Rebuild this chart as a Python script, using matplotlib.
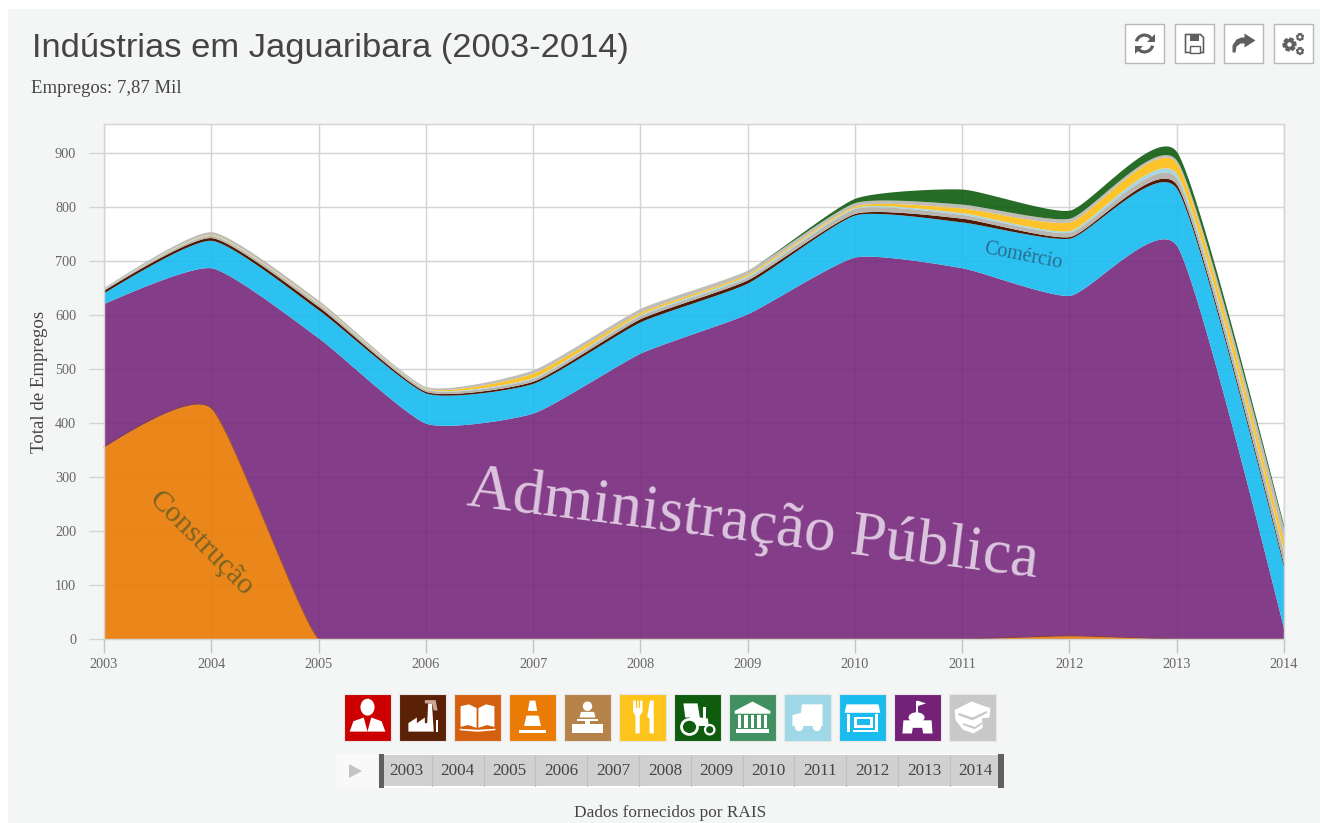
import numpy as np
import matplotlib
matplotlib.use("Agg")
import matplotlib.pyplot as plt
from matplotlib.patches import Rectangle, Polygon, Circle, Wedge, Ellipse
from matplotlib.ticker import FixedLocator

years = [2003, 2004, 2005, 2006, 2007, 2008, 2009, 2010, 2011, 2012, 2013, 2014]
construcao = [356, 428, 0, 0, 0, 0, 0, 0, 0, 6, 0, 0]
administracao = [266, 260, 558, 400, 419, 530, 603, 708, 688, 631, 729, 17]
comercio = [20, 51, 52, 56, 55, 58, 57, 78, 85, 106, 106, 114]
industria = [5, 5, 6, 3, 4, 6, 6, 3, 7, 3, 7, 6]
educacao = [2, 4, 5, 4, 5, 6, 5, 9, 7, 8, 12, 20]
transporte = [1, 1, 1, 1, 2, 2, 3, 2, 3, 3, 8, 3]
alimentacao = [0, 1, 1, 1, 8, 4, 3, 3, 9, 16, 20, 18]
outros = [2, 5, 5, 3, 6, 7, 7, 6, 7, 7, 5, 25]
agricultura = [0, 0, 0, 0, 0, 0, 0, 8, 28, 15, 16, 5]

series = [construcao, administracao, comercio, industria, educacao,
          transporte, alimentacao, outros, agricultura]
series_colors = ["#ea7c06", "#732278", "#1abcf0", "#4e1a04", "#b8b6ae",
                 "#a5d6e2", "#fcc42a", "#bfbdb6", "#0f5c0f"]
series_alpha = [0.92, 0.88, 0.92, 1, 1, 1, 1, 1, 0.9]
series_labels = ["Construção", "Administração Pública", "Comércio"]
y_ticks = [0, 100, 200, 300, 400, 500, 600, 700, 800, 900]
icon_colors = ["#cc0000", "#5a2106", "#d4600f", "#ea7c06", "#b5834a", "#ffc41c",
               "#0f5c0f", "#41905f", "#9fd9e8", "#1abcf0", "#732278", "#c8c8c8"]
title_text = "Indústrias em Jaguaribara (2003-2014)"
subtitle_text = "Empregos: 7,87 Mil"
source_text = "Dados fornecidos por RAIS"
ylabel_text = "Total de Empregos"

W, H = 1320, 823
SERIF = "Liberation Serif"
SANS = "Liberation Sans"
BG = "#f4f6f5"
TENSION = 0.73


def cardinal(x, y, grid, n=60):
    """Cardinal spline through the data points, the curve the chart's area edges use."""
    x = np.asarray(x, float)
    y = np.asarray(y, float)
    k = (1 - TENSION) / 2
    tx = k * (x[2:] - x[:-2])
    ty = k * (y[2:] - y[:-2])
    t = np.linspace(0, 1, n)[:, None]
    out_x, out_y = [], []
    for i in range(len(x) - 1):
        p0 = np.array([x[i], y[i]])
        p3 = np.array([x[i + 1], y[i + 1]])
        if i == 0:
            c = p3 - np.array([tx[0], ty[0]]) * 2 / 3
            pts = (1 - t)**2 * p0 + 2 * (1 - t) * t * c + t**2 * p3
        elif i == len(x) - 2:
            c = p0 + np.array([tx[-1], ty[-1]]) * 2 / 3
            pts = (1 - t)**2 * p0 + 2 * (1 - t) * t * c + t**2 * p3
        else:
            c1 = p0 + np.array([tx[i - 1], ty[i - 1]]) * 2 / 3
            c2 = p3 - np.array([tx[i], ty[i]]) * 2 / 3
            pts = (1 - t)**3 * p0 + 3 * (1 - t)**2 * t * c1 + 3 * (1 - t) * t**2 * c2 + t**3 * p3
        out_x.append(pts[:, 0])
        out_y.append(pts[:, 1])
    return np.interp(grid, np.concatenate(out_x), np.concatenate(out_y))


fig = plt.figure(figsize=(W / 100, H / 100), dpi=100, facecolor="white")

bg = fig.add_axes([0, 0, 1, 1], zorder=0)
bg.set_xlim(0, W)
bg.set_ylim(H, 0)
bg.axis("off")
bg.add_patch(Rectangle((8, 9), W - 8, H - 9, fc=BG, ec="none"))

L, R, T, B = 104, 1284, 124, 639
ax = fig.add_axes([L / W, 1 - B / H, (R - L) / W, (B - T) / H], zorder=1)
ax.set_xlim(years[0], years[-1])
ax.set_ylim(0, (B - T) / 0.5395)
ax.set_facecolor("white")
ax.set_axisbelow(True)
ax.grid(True, color="#d4d4d4", lw=1.05)
ax.xaxis.set_major_locator(FixedLocator(years))
ax.yaxis.set_major_locator(FixedLocator(y_ticks))
ax.tick_params(axis="x", length=10, width=1.0, color="#c4c4c4", pad=4, labelsize=10.3, labelcolor="#666666")
ax.tick_params(axis="y", length=11, width=1.0, color="#d4d4d4", pad=9, labelsize=10.3, labelcolor="#666666")
ax.set_xticklabels([str(y) for y in years])
for lab in ax.get_xticklabels() + ax.get_yticklabels():
    lab.set_fontfamily(SERIF)
for sp in ax.spines.values():
    sp.set_color("#d4d4d4")
    sp.set_linewidth(1.05)

grid_x = np.linspace(years[0], years[-1], 2400)
base = np.zeros(len(years))
prev = np.zeros_like(grid_x)
for i, (vals, col, al) in enumerate(zip(series, series_colors, series_alpha)):
    top = base + np.array(vals, float)
    cur = np.maximum(cardinal(years, top, grid_x), prev)
    ax.fill_between(grid_x, prev, cur, color=col, alpha=al, lw=0)
    if i == 0:
        first_top = cur.copy()
    prev, base = cur, top
ax.plot(grid_x, first_top, color="#8a3f30", lw=0.7, alpha=0.8, clip_on=False)

bg.text(32, 48, title_text, family=SANS, fontsize=24.8, color="#444444", va="center", ha="left")
bg.text(31, 88, subtitle_text, family=SERIF, fontsize=13.5, color="#444444", va="center", ha="left")
fig.text(40 / W, 1 - 382 / H, ylabel_text, family=SERIF, fontsize=13.6, color="#444444",
         rotation=90, ha="center", va="center", zorder=3)
fig.text(670 / W, 1 - 813 / H, source_text, family=SERIF, fontsize=12.4, color="#444444",
         ha="center", va="center", zorder=3)

fig.text(201 / W, 1 - 544 / H, series_labels[0], family=SERIF, fontsize=21.5, color="#7a6424",
         rotation=-45, ha="center", va="center", zorder=3, rotation_mode="anchor")
fig.text(753 / W, 1 - 526 / H, series_labels[1], family=SERIF, fontsize=45.3, color="#dcc6de",
         rotation=-7.2, ha="center", va="center", zorder=3, rotation_mode="anchor")
fig.text(1023 / W, 1 - 256 / H, series_labels[2], family=SERIF, fontsize=14.5, color="#2b6c90",
         rotation=-11, ha="center", va="center", zorder=3, rotation_mode="anchor")

ui = fig.add_axes([0, 0, 1, 1], zorder=2)
ui.set_xlim(0, W)
ui.set_ylim(H, 0)
ui.axis("off")
ui.patch.set_alpha(0)

GLY = "#5f5f5f"
for x0, kind in zip([1125, 1175, 1224, 1274], ["refresh", "save", "share", "gears"]):
    ui.add_patch(Rectangle((x0, 24), 39, 39, fc="white", ec="#b8b8b8", lw=1.0))
    cx, cy = x0 + 19.5, 43.5
    if kind == "refresh":
        ui.add_patch(Wedge((cx, cy), 10, 195, 335, width=3.2, fc=GLY, ec="none"))
        ui.add_patch(Wedge((cx, cy), 10, 15, 155, width=3.2, fc=GLY, ec="none"))
        ui.add_patch(Polygon([(cx + 10, cy - 10), (cx + 10, cy - 2), (cx + 2, cy - 2)], fc=GLY, ec="none"))
        ui.add_patch(Polygon([(cx - 10, cy + 10), (cx - 10, cy + 2), (cx - 2, cy + 2)], fc=GLY, ec="none"))
    elif kind == "save":
        ui.add_patch(Polygon([(cx - 9, cy - 9), (cx + 6, cy - 9), (cx + 9, cy - 6), (cx + 9, cy + 9), (cx - 9, cy + 9)],
                             fc="white", ec=GLY, lw=1.2))
        ui.add_patch(Rectangle((cx - 5, cy - 9), 9, 6, fc=GLY, ec="none"))
        ui.add_patch(Rectangle((cx - 5, cy + 2), 10, 7, fc="white", ec=GLY, lw=1.0))
    elif kind == "share":
        ui.add_patch(Polygon([(cx + 1, cy - 10), (cx + 12, cy - 3), (cx + 1, cy + 4), (cx + 1, cy + 0),
                              (cx - 3, cy + 0), (cx - 7, cy + 3), (cx - 8, cy + 9), (cx - 11, cy + 9),
                              (cx - 11, cy + 2), (cx - 7, cy - 4), (cx - 2, cy - 6), (cx + 1, cy - 6)],
                             fc=GLY, ec="none"))
    else:
        for gx, gy, r, w in [(cx - 4, cy + 1, 5, 3), (cx + 6.5, cy - 6.5, 3, 1.6), (cx + 6.5, cy + 7.5, 3, 1.6)]:
            ui.add_patch(Circle((gx, gy), r, fc="none", ec=GLY, lw=w, ls=(0, (0.9, 0.35))))
            ui.add_patch(Circle((gx, gy), r - w * 0.35, fc="none", ec=GLY, lw=w * 0.8))


def icon(i, x0):
    y0, w, h = 694, 47, 47
    ui.add_patch(Rectangle((x0, y0), w, h, fc=icon_colors[i], ec="#e6e6e6", lw=0.8))
    P = lambda u, v: (x0 + u * w, y0 + v * h)

    def poly(pts, fc="white"):
        ui.add_patch(Polygon([P(*p) for p in pts], fc=fc, ec="none"))

    def ell(u, v, a, b, fc="white"):
        ui.add_patch(Ellipse(P(u, v), a * w, b * h, fc=fc, ec="none"))

    if i == 0:
        ell(.5, .28, .3, .36)
        poly([(.12, .8), (.2, .58), (.42, .5), (.5, .8), (.58, .5), (.8, .58), (.88, .8)])
    elif i == 1:
        poly([(.2, .8), (.2, .62), (.38, .5), (.38, .62), (.55, .5), (.55, .62), (.6, .62), (.62, .2), (.7, .2), (.74, .8)])
        poly([(.55, .13), (.78, .13), (.82, .35), (.74, .35), (.7, .2), (.55, .2)], fc="#c9a795")
        poly([(.78, .55), (.84, .55), (.84, .8), (.78, .8)])
    elif i == 2:
        poly([(.14, .26), (.32, .22), (.48, .3), (.48, .72), (.3, .66), (.14, .7)])
        poly([(.86, .26), (.68, .22), (.52, .3), (.52, .72), (.7, .66), (.86, .7)])
        poly([(.12, .74), (.46, .76), (.54, .76), (.88, .74), (.88, .77), (.54, .8), (.46, .8), (.12, .77)])
    elif i == 3:
        poly([(.44, .14), (.56, .14), (.6, .36), (.4, .36)])
        poly([(.37, .46), (.63, .46), (.68, .68), (.32, .68)])
        poly([(.22, .76), (.78, .76), (.78, .82), (.22, .82)])
    elif i == 4:
        ell(.5, .26, .2, .2)
        poly([(.33, .5), (.36, .38), (.64, .38), (.67, .5)])
        poly([(.28, .54), (.72, .54), (.72, .58), (.55, .58), (.55, .64), (.45, .64), (.45, .58), (.28, .58)])
        poly([(.16, .64), (.84, .64), (.84, .84), (.16, .84)])
    elif i == 5:
        poly([(.3, .14), (.36, .14), (.36, .3), (.39, .3), (.39, .14), (.42, .14), (.42, .3), (.45, .3), (.45, .14), (.5, .14),
              (.5, .38), (.44, .46), (.44, .84), (.35, .84), (.35, .46), (.3, .38)])
        poly([(.66, .14), (.74, .14), (.74, .84), (.65, .84), (.65, .52), (.6, .48)])
    elif i == 6:
        poly([(.2, .2), (.5, .2), (.55, .5), (.72, .52), (.74, .68), (.4, .68), (.34, .5), (.24, .5)])
        poly([(.62, .28), (.68, .28), (.68, .5), (.62, .5)])
        ui.add_patch(Ellipse(P(.33, .7), .34 * w, .32 * h, fc=icon_colors[6], ec="white", lw=2))
        ui.add_patch(Ellipse(P(.76, .76), .2 * w, .2 * h, fc=icon_colors[6], ec="white", lw=1.6))
    elif i == 7:
        poly([(.5, .16), (.88, .36), (.88, .42), (.12, .42), (.12, .36)])
        for u in (.22, .36, .5, .64, .78):
            poly([(u - .035, .45), (u + .035, .45), (u + .035, .72), (u - .035, .72)])
        poly([(.14, .75), (.86, .75), (.86, .82), (.14, .82)])
    elif i == 8:
        poly([(.38, .22), (.82, .22), (.82, .68), (.18, .68), (.18, .45), (.36, .4)])
        ell(.32, .7, .18, .18)
        ell(.7, .7, .18, .18)
    elif i == 9:
        poly([(.16, .22), (.84, .22), (.88, .4), (.12, .4)])
        poly([(.16, .42), (.24, .42), (.24, .8), (.16, .8)])
        poly([(.76, .42), (.84, .42), (.84, .8), (.76, .8)])
        poly([(.32, .48), (.72, .48), (.72, .72), (.32, .72)])
        poly([(.38, .54), (.66, .54), (.66, .66), (.38, .66)], fc=icon_colors[9])
        poly([(.3, .76), (.76, .76), (.76, .8), (.3, .8)])
    elif i == 10:
        poly([(.46, .14), (.5, .14), (.5, .4), (.46, .4)])
        poly([(.5, .14), (.68, .2), (.5, .26)])
        ell(.48, .5, .34, .22)
        poly([(.2, .56), (.8, .56), (.82, .84), (.62, .84), (.6, .72), (.4, .72), (.38, .84), (.18, .84)])
    else:
        poly([(.48, .16), (.7, .24), (.88, .3), (.86, .5), (.7, .52), (.72, .72), (.52, .84), (.3, .76), (.14, .56), (.12, .34)])
        poly([(.2, .4), (.5, .5), (.8, .36), (.82, .4), (.5, .56), (.2, .45)], fc=icon_colors[11])
        poly([(.3, .62), (.55, .7), (.7, .6), (.7, .64), (.55, .75), (.3, .66)], fc=icon_colors[11])


for i in range(len(icon_colors)):
    icon(i, 344 + i * 55)

ui.add_patch(Rectangle((336, 754), 42, 34, fc="#f8f9f8", ec="none"))
ui.add_patch(Polygon([(349, 764), (349, 778), (362, 771)], fc="#c4c4c4", ec="none"))
ui.add_patch(Rectangle((379, 754), 625, 34, fc="white", ec="none"))
ui.add_patch(Rectangle((381, 755), 622, 31, fc="#d0d0d0", ec="none"))
cell = 51.8
for i, y in enumerate(years):
    x = 380 + i * cell
    if i:
        ui.plot([x, x], [755, 786], color="#c0c0c0", lw=0.8)
    ui.text(x + cell / 2, 771, str(y), family=SERIF, fontsize=12.3, color="#444444", ha="center", va="center")
ui.add_patch(Rectangle((379, 754), 5, 34, fc="#606060", ec="none"))
ui.add_patch(Rectangle((998, 754), 6, 34, fc="#606060", ec="none"))
ui.set_xlim(0, W)
ui.set_ylim(H, 0)

fig.savefig("out.png", dpi=100, facecolor=fig.get_facecolor())
